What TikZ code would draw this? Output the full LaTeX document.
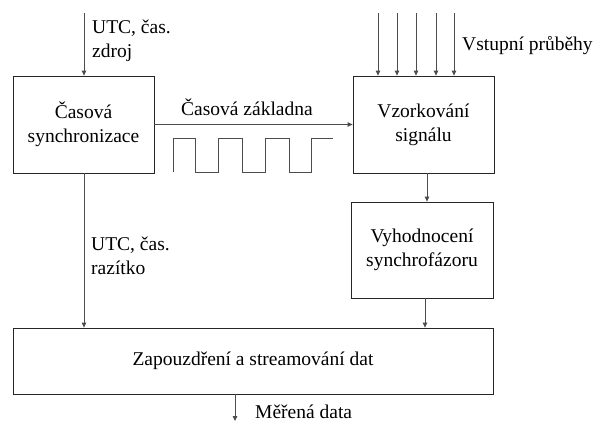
\documentclass[tikz,border=0pt]{standalone}
\usepackage{fontspec}
\setmainfont{Liberation Serif}
\usetikzlibrary{arrows.meta}
\begin{document}
\begin{tikzpicture}[x=1pt,y=-1pt,
 box/.style={draw=black!85,line width=0.8pt,font=\fontsize{19.5}{24}\selectfont,inner sep=0pt,align=center},
 conn/.style={draw=black!70,line width=0.8pt,-{Triangle[length=5pt,width=4.5pt]}},
 lbl/.style={font=\fontsize{19.5}{24}\selectfont,inner sep=0pt,align=left},
 wave/.style={draw=black!70,line width=0.8pt}]
\useasboundingbox (0,0) rectangle (595,421);
% boxes
\node[box,minimum width=141pt,minimum height=97pt] (sync) at (83.5,124.5) {Časová\\synchronizace};
\node[box,minimum width=141pt,minimum height=97pt] (samp) at (423.5,124.5) {Vzorkování\\signálu};
\node[box,minimum width=142pt,minimum height=96pt] (eval) at (422,250) {Vyhodnocení\\synchrofázoru};
\node[box,minimum width=480pt,minimum height=66pt] (enc) at (253,361) {Zapouzdření a streamování dat};
% labels
\node[lbl,anchor=west] (l1) at (92,41) {UTC, čas.\\zdroj};
\node[lbl,anchor=base] (l2) at (247,115) {Časová základna};
\node[lbl,anchor=base west] (l3) at (462,50) {Vstupní průběhy};
\node[lbl,anchor=west] (l4) at (91,256) {UTC, čas.\\razítko};
\node[lbl,anchor=base west] (l5) at (255,418) {Měřená data};
% connectors
\coordinate (t0) at (84,13);
\draw[conn] (t0) -- (t0 |- sync.north);
\foreach \i/\x in {1/378,2/397,3/416,4/436,5/454}{
  \coordinate (s\i) at (\x,13);
  \draw[conn] (s\i) -- (s\i |- samp.north);
}
\draw[conn] (sync.east) -- (samp.west);
\coordinate (c1) at (427,0);
\draw[conn] (samp.south -| c1) -- (eval.north -| c1);
\coordinate (c2) at (425,0);
\draw[conn] (eval.south -| c2) -- (enc.north -| c2);
\coordinate (c3) at (84,0);
\draw[conn] (sync.south -| c3) -- (enc.north -| c3);
\coordinate (out) at (235,421);
\draw[conn] (enc.south -| out) -- (out);
% square wave
\draw[wave] (173,172) -- (173,138) -- (195,138) -- (195,172) -- (218,172) -- (218,138) -- (242,138) -- (242,172) -- (265,172) -- (265,138) -- (289,138) -- (289,172) -- (311,172) -- (311,138) -- (333,138);
\end{tikzpicture}
\end{document}
